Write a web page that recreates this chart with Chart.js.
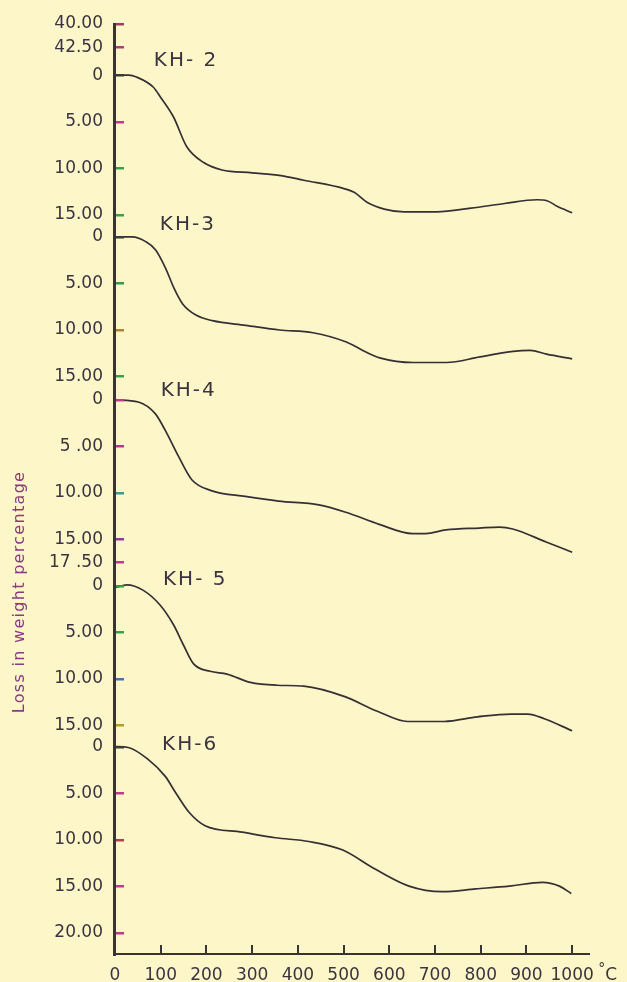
<!DOCTYPE html>
<html><head><meta charset="utf-8">
<script src="https://cdn.jsdelivr.net/npm/chart.js@4.4.1/dist/chart.umd.min.js"></script>
<style>
html,body{margin:0;padding:0;background:#fcf6c9;}
#wrap{position:relative;width:627px;height:982px;}
</style></head><body>
<div id="wrap"><canvas id="c"></canvas></div>
<script>
// ---------------- data ----------------
const temperatureTicks = [0,100,200,300,400,500,600,700,800,900,1000];
const sampleNames = ['KH- 2','KH-3','KH-4','KH- 5','KH-6'];

const kh2Temp = [0,30,47,84,100,128,157,194,234,300,363,413,501,523,552,589,632,704,779,852,923,945,967,1000];
const kh2Loss = [0,0,0.2,1.3,2.4,4.5,7.7,9.4,10.2,10.5,10.8,11.3,12.2,12.6,13.7,14.4,14.7,14.7,14.3,13.8,13.4,13.5,14.1,14.8];

const kh3Temp = [0,38,67,89,111,129,148,177,213,286,360,433,506,550,579,652,725,798,871,908,944,1000];
const kh3Loss = [0,0,0.5,1.4,3.4,5.5,7.2,8.4,9.0,9.5,10.0,10.3,11.3,12.4,13.0,13.5,13.5,12.9,12.3,12.2,12.6,13.1];

const kh4Temp = [0,51,88,110,139,168,212,285,358,446,505,578,651,680,724,797,841,870,943,1000];
const kh4Loss = [0,0.25,1.5,3.3,6.1,8.6,9.8,10.4,10.9,11.3,12.1,13.4,14.4,14.4,14.0,13.8,13.7,13.9,15.3,16.4];

const kh5Temp = [0,26,62,99,128,150,172,208,245,296,354,413,501,574,640,720,793,866,903,939,1000];
const kh5Loss = [0.2,-0.1,0.5,2.1,4.2,6.4,8.4,9.2,9.5,10.4,10.7,10.8,11.9,13.5,14.6,14.6,14.1,13.8,13.8,14.3,15.6];

const kh6Temp = [0,29,73,110,132,161,197,278,351,424,497,570,643,716,789,862,935,972,998];
const kh6Loss = [0,0.1,1.4,3.2,4.9,7.0,8.5,9.2,9.8,10.2,11.1,13.2,15.0,15.6,15.3,15.0,14.6,15.0,15.8];

// tick values (loss %) printed beside each curve, and their labels
const kh2TickValues = [-5.5,-3,0,5,10,15];
const kh2TickLabels = ['40.00','42.50','0','5.00','10.00','15.00'];
const kh3TickValues = [0,5,10,15];
const kh3TickLabels = ['0','5.00','10.00','15.00'];
const kh4TickValues = [0,5,10,15,17.5];
const kh4TickLabels = ['0','5 .00','10.00','15.00','17 .50'];
const kh5TickValues = [0,5,10,15];
const kh5TickLabels = ['0','5.00','10.00','15.00'];
const kh6TickValues = [0,5,10,15,20];
const kh6TickLabels = ['0','5.00','10.00','15.00','20.00'];

// ---------------- layout / style ----------------
const curveZero = [5.5, 22.9, 40.4, 60.4, 77.7];           // vertical stacking of curves
const labelAnchor = [[85,-1.5],[98,-1.3],[100,-1.0],[105,-0.6],[103,-0.2]];
const tickColors = [
  ['#9a4060','#b03a8a','#3a3a3a','#c03a90','#3aa048','#3aa048'],
  ['#3a3a3a','#2f9a50','#b08040','#3aa048'],
  ['#c03a90','#b8348a','#3a9a9a','#8a3aa0','#c03a90'],
  ['#3a9a40','#3aa048','#4a70b0','#b0a030'],
  ['#3a3a3a','#c03a90','#b04050','#c03a90','#c03a90']
];

const temps = [kh2Temp,kh3Temp,kh4Temp,kh5Temp,kh6Temp];
const losses = [kh2Loss,kh3Loss,kh4Loss,kh5Loss,kh6Loss];
const tickVals = [kh2TickValues,kh3TickValues,kh4TickValues,kh5TickValues,kh6TickValues];
const tickLabs = [kh2TickLabels,kh3TickLabels,kh4TickLabels,kh5TickLabels,kh6TickLabels];

const yTicks = [];
tickVals.forEach((vals,ci)=>vals.forEach((v,i)=>yTicks.push({value:curveZero[ci]+v,label:tickLabs[ci][i],color:tickColors[ci][i]})));
yTicks.sort((a,b)=>a.value-b.value);

const datasets = temps.map((t,ci)=>({
  label: sampleNames[ci],
  data: t.map((x,i)=>({x:x,y:curveZero[ci]+losses[ci][i]})),
  borderColor:'#363034',
  borderWidth:1.7,
  pointRadius:0,
  fill:false,
  cubicInterpolationMode:'monotone'
}));

const ink = '#3b3440';
const axisInk = '#3a3430';

const decor = {
  id:'decor',
  afterDraw(chart){
    const {ctx, scales:{x,y}, chartArea:a} = chart;
    ctx.save();
    // axis lines
    ctx.fillStyle = axisInk;
    const L = Math.round(a.left);
    ctx.fillRect(L-2, Math.round(a.top)-1, 3, Math.round(a.bottom - a.top)+3);
    ctx.fillRect(L-2, Math.round(a.bottom)-1, Math.round(a.right - a.left)+2, 2);
    // inward y ticks
    yTicks.forEach(t=>{
      const py = Math.round(y.getPixelForValue(t.value));
      ctx.fillStyle = t.color;
      ctx.fillRect(L+1, py-1, 8, 2.5);
    });
    // inward x ticks
    ctx.fillStyle = axisInk;
    temperatureTicks.forEach(v=>{
      if(v===0) return;
      const px = Math.round(x.getPixelForValue(v));
      ctx.fillRect(px-1, Math.round(a.bottom)-9, 2, 9);
    });
    // curve names
    ctx.fillStyle = ink;
    ctx.font = '20px "DejaVu Sans"';
    ctx.textBaseline = 'middle'; ctx.textAlign = 'left';
    try{ ctx.letterSpacing = '2px'; }catch(e){}
    sampleNames.forEach((n,ci)=>{
      ctx.fillText(n, x.getPixelForValue(labelAnchor[ci][0]), y.getPixelForValue(curveZero[ci]+labelAnchor[ci][1]));
    });
    // unit after 1000
    try{ ctx.letterSpacing = '0px'; }catch(e){}
    const p1000 = x.getPixelForValue(1000);
    ctx.font = '14px "DejaVu Sans"';
    ctx.fillText('°', p1000+26, a.bottom+15);
    ctx.font = '17px "DejaVu Sans"';
    ctx.fillText('C', p1000+33, a.bottom+22);
    // axis title
    ctx.translate(20, 592);
    ctx.rotate(-Math.PI/2);
    ctx.textAlign = 'center';
    ctx.fillStyle = '#8a3a82';
    ctx.font = '16px "DejaVu Sans"';
    try{ ctx.letterSpacing = '1.3px'; }catch(e){}
    ctx.fillText('Loss in weight percentage', 0, 0);
    ctx.restore();
  }
};

new Chart(document.getElementById('c'), {
  type:'line',
  data:{datasets},
  options:{
    responsive:true, maintainAspectRatio:false, animation:false,
    layout:{padding:{top:24,right:37,bottom:0,left:0}},
    plugins:{legend:{display:false},tooltip:{enabled:false}},
    scales:{
      x:{
        type:'linear', min:0, max:1039,
        afterBuildTicks:s=>{ s.ticks = temperatureTicks.map(v=>({value:v})); },
        afterFit:s=>{ s.height = 28; },
        grid:{drawOnChartArea:false, drawTicks:false},
        border:{display:false},
        ticks:{autoSkip:false, maxRotation:0, padding:11, color:ink,
               font:{family:'DejaVu Sans', size:17},
               callback:v=>String(v)}
      },
      y:{
        type:'linear', min:0, max:100, reverse:true,
        afterBuildTicks:s=>{ s.ticks = yTicks.map(t=>({value:t.value})); },
        afterFit:s=>{ s.width = 115; },
        grid:{drawOnChartArea:false, drawTicks:false},
        border:{display:false},
        ticks:{autoSkip:false, padding:12, color:ink,
               font:{family:'DejaVu Sans', size:17},
               callback:(v,i)=>yTicks[i] ? yTicks[i].label : ''}
      }
    }
  },
  plugins:[decor]
});
</script>
</body></html>
